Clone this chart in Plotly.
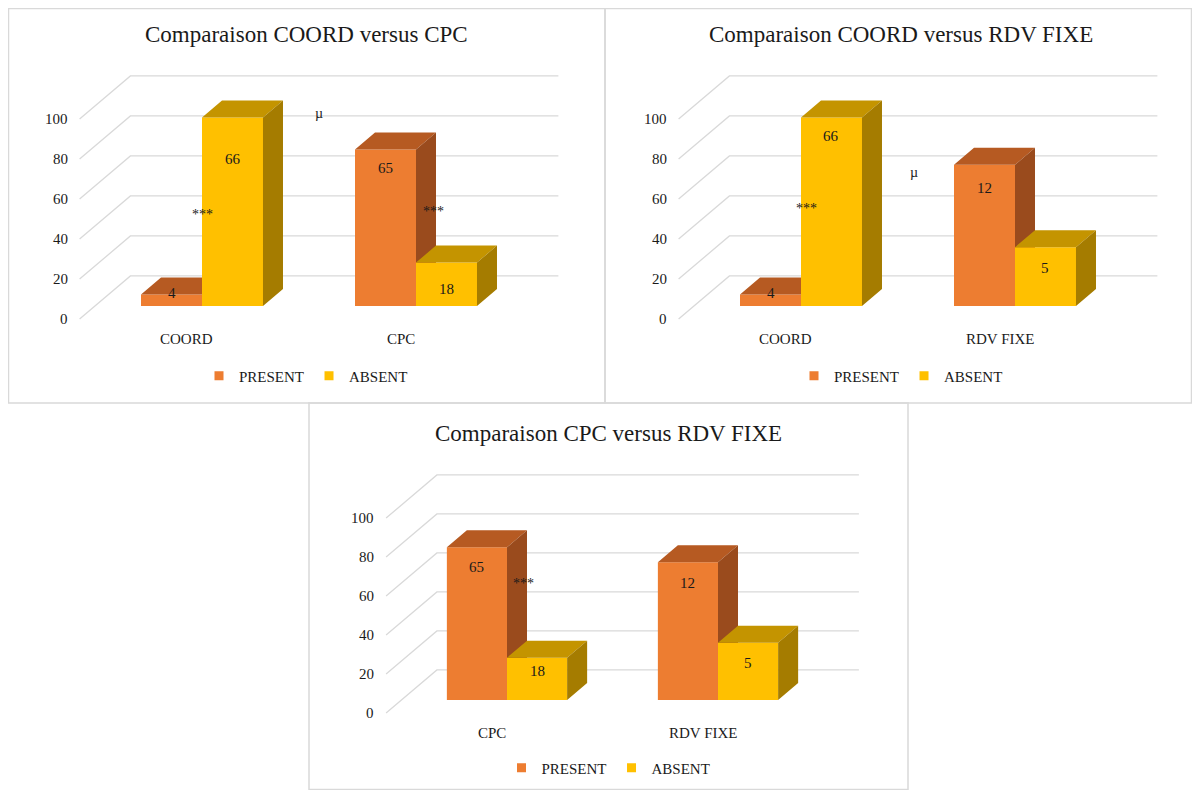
import plotly.graph_objects as go

# ---------------- DATA ----------------
series_names = ["PRESENT", "ABSENT"]
value_ticks = [0, 20, 40, 60, 80, 100]

categories_1 = ["COORD", "CPC"]
present_pct_1 = [5.7, 78.3]
absent_pct_1 = [94.3, 21.7]
present_n_1 = [4, 65]
absent_n_1 = [66, 18]
title_1 = "Comparaison COORD versus CPC"

categories_2 = ["COORD", "RDV FIXE"]
present_pct_2 = [5.7, 70.6]
absent_pct_2 = [94.3, 29.4]
present_n_2 = [4, 12]
absent_n_2 = [66, 5]
title_2 = "Comparaison COORD versus RDV FIXE"

categories_3 = ["CPC", "RDV FIXE"]
present_pct_3 = [78.3, 70.6]
absent_pct_3 = [21.7, 29.4]
present_n_3 = [65, 12]
absent_n_3 = [18, 5]
title_3 = "Comparaison CPC versus RDV FIXE"

# significance marks (text, x px, y px in the page)
marks_1 = [("***", 202, 215), ("µ", 319, 113), ("***", 433, 211)]
marks_2 = [("***", 806, 209), ("µ", 914, 172)]
marks_3 = [("***", 523, 583)]

# ---------------- STYLE / GEOMETRY ----------------
PAGE_W, PAGE_H = 1200, 798
OFF = 8                      # default body margin of the html page
W, H = PAGE_W - 2 * OFF, PAGE_H - 2 * OFF
FONT = "Liberation Serif"
TXT = "#1a1a1a"
GRID = "#D9D9D9"
BORDER = "#D9D9D9"
FRONT = ["#ED7D31", "#FFC000"]
TOP = ["#B65A22", "#C49400"]
SIDE = ["#9A4B1D", "#A57C00"]
BAR_W = 0.285
DEPTH_DX_PX, DEPTH_DY_PX = 20, 17
T_WALL, T_FLOOR = 1.77, -0.77


def fx(px):  # page px -> figure px (x)
    return min(max(px - OFF, 0.5), W - 0.5)


def fy(py):
    return min(max(py - OFF, 0.5), H - 0.5)


panels = [
    dict(cats=categories_1, pres=present_pct_1, abs=absent_pct_1, pn=present_n_1, an=absent_n_1,
         title=title_1, marks=marks_1, box=(7, 5, 605, 403), c0=202, sp=214, zero=306, ppu=2.0,
         lab_shift=[[2, -19], [-42, -26]]),
    dict(cats=categories_2, pres=present_pct_2, abs=absent_pct_2, pn=present_n_2, an=absent_n_2,
         title=title_2, marks=marks_2, box=(605, 5, 1197, 403), c0=801, sp=214, zero=306, ppu=2.0,
         lab_shift=[[2, -23], [-19, -21]]),
    dict(cats=categories_3, pres=present_pct_3, abs=absent_pct_3, pn=present_n_3, an=absent_n_3,
         title=title_3, marks=marks_3, box=(309, 403, 908, 795), c0=507, sp=211, zero=700, ppu=1.95,
         lab_shift=[[-20, -21], [-13, -20]]),
]

fig = go.Figure()
annotations = []
shapes = []
layout_extra = {}

for i, p in enumerate(panels):
    k = "" if i == 0 else str(i + 1)
    xa, ya = "x" + k, "y" + k
    leg = "legend" + k
    bx0, by0, bx1, by1 = p["box"]
    # axes domain covers the panel box (in page px), converted to figure px
    x0p, x1p = bx0 - OFF, bx1 - OFF
    y0p, y1p = by0 - OFF, by1 - OFF
    sp, ppu = p["sp"], p["ppu"]
    c0, zero = p["c0"] - OFF, p["zero"] - OFF
    dxc = DEPTH_DX_PX / sp
    dyv = DEPTH_DY_PX / ppu

    def P(x, v, t, dxc=dxc, dyv=dyv):
        return x + t * dxc, v + t * dyv

    dx0, dx1 = max(x0p, 0), min(x1p, W)
    dy0, dy1 = max(y0p, 0), min(y1p, H)
    layout_extra["xaxis" + k] = dict(domain=[dx0 / W, dx1 / W],
                                     range=[(dx0 - c0) / sp, (dx1 - c0) / sp],
                                     visible=False, fixedrange=True, anchor=ya)
    layout_extra["yaxis" + k] = dict(domain=[1 - dy1 / H, 1 - dy0 / H],
                                     range=[(zero - dy1) / ppu, (zero - dy0) / ppu],
                                     visible=False, fixedrange=True, anchor=xa)

    n = len(p["cats"])
    xl_wall, xr_wall = -0.5, n - 0.5

    # gridlines: back wall + left side wall
    gx, gy = [], []
    for v in value_ticks:
        a = P(xl_wall, v, T_FLOOR)
        b = P(xl_wall, v, T_WALL)
        c = P(xr_wall, v, T_WALL)
        gx += [a[0], b[0], c[0], None]
        gy += [a[1], b[1], c[1], None]
    fig.add_trace(go.Scatter(x=gx, y=gy, mode="lines", line=dict(color=GRID, width=1.3),
                             hoverinfo="skip", showlegend=False, xaxis=xa, yaxis=ya))

    # value tick labels at the front edge
    for v in value_ticks:
        tx, ty = P(xl_wall, v, T_FLOOR)
        annotations.append(dict(x=tx, y=ty, xref=xa, yref=ya, text=str(v), showarrow=False,
                                xanchor="right", yanchor="middle", xshift=-10,
                                font=dict(family=FONT, size=15, color=TXT)))
    # category labels
    for j, cat in enumerate(p["cats"]):
        tx, ty = P(j, 0, T_FLOOR)
        annotations.append(dict(x=tx, y=ty, xref=xa, yref=ya, text=cat, showarrow=False,
                                xanchor="center", yanchor="middle", yshift=-20,
                                font=dict(family=FONT, size=15, color=TXT)))

    # bars (painter's order: PRESENT then ABSENT)
    for s, vals in enumerate([p["pres"], p["abs"]]):
        fxs, fys, txs, tys, sxs, sys_ = [], [], [], [], [], []
        for j, h in enumerate(vals):
            xl = j - BAR_W if s == 0 else j
            xr = xl + BAR_W
            front = [P(xl, 0, 0), P(xr, 0, 0), P(xr, h, 0), P(xl, h, 0), P(xl, 0, 0)]
            top = [P(xl, h, 0), P(xr, h, 0), P(xr, h, 1), P(xl, h, 1), P(xl, h, 0)]
            side = [P(xr, 0, 0), P(xr, 0, 1), P(xr, h, 1), P(xr, h, 0), P(xr, 0, 0)]
            for pts, X, Y in ((front, fxs, fys), (top, txs, tys), (side, sxs, sys_)):
                X += [q[0] for q in pts] + [None]
                Y += [q[1] for q in pts] + [None]
        for X, Y, col, nm in ((fxs, fys, FRONT[s], series_names[s]),
                              (txs, tys, TOP[s], series_names[s] + " (top)"),
                              (sxs, sys_, SIDE[s], series_names[s] + " (side)")):
            fig.add_trace(go.Scatter(x=X, y=Y, mode="lines", fill="toself", fillcolor=col,
                                     line=dict(width=0, color=col), name=nm,
                                     hoverinfo="skip", showlegend=False, xaxis=xa, yaxis=ya))
        # legend entry
        fig.add_trace(go.Scatter(x=[None], y=[None], mode="markers", name=series_names[s],
                                 marker=dict(symbol="square", size=9, color=FRONT[s]),
                                 showlegend=True, legend=leg, xaxis=xa, yaxis=ya))

    # data labels (counts)
    for s, (vals, cnts) in enumerate([(p["pres"], p["pn"]), (p["abs"], p["an"])]):
        for j, (h, c) in enumerate(zip(vals, cnts)):
            xc = j - BAR_W / 2 if s == 0 else j + BAR_W / 2
            annotations.append(dict(x=xc, y=h, xref=xa, yref=ya, text=str(c), showarrow=False,
                                    xanchor="center", yanchor="middle", yshift=p["lab_shift"][s][j],
                                    font=dict(family=FONT, size=15, color=TXT)))

    # significance marks
    for txt, mx, my in p["marks"]:
        annotations.append(dict(x=fx(mx) / W, y=1 - fy(my) / H, xref="paper", yref="paper",
                                text=txt, showarrow=False, xanchor="center", yanchor="middle",
                                font=dict(family=FONT, size=14, color=TXT)))

    # title
    annotations.append(dict(x=fx((bx0 + bx1) / 2) / W, y=1 - fy(by0 + 30) / H,
                            xref="paper", yref="paper", text=p["title"], showarrow=False,
                            xanchor="center", yanchor="middle",
                            font=dict(family=FONT, size=23, color=TXT)))

    # legend
    layout_extra[leg] = dict(orientation="h", x=fx((bx0 + bx1) / 2) / W, xanchor="center",
                             y=1 - fy(by1 - 27) / H, yanchor="middle", bgcolor="rgba(0,0,0,0)",
                             font=dict(family=FONT, size=15, color=TXT), itemwidth=30,
                             tracegroupgap=0, itemclick=False, itemdoubleclick=False)

    # panel border
    shapes.append(dict(type="rect", xref="paper", yref="paper",
                       x0=fx(bx0) / W, x1=fx(bx1) / W,
                       y0=1 - fy(by1) / H, y1=1 - fy(by0) / H,
                       line=dict(color=BORDER, width=1.5), layer="below"))

fig.update_layout(width=W, height=H, margin=dict(l=0, r=0, t=0, b=0),
                  paper_bgcolor="white", plot_bgcolor="rgba(0,0,0,0)",
                  annotations=annotations, shapes=shapes, **layout_extra)

fig.write_html("out.html")
